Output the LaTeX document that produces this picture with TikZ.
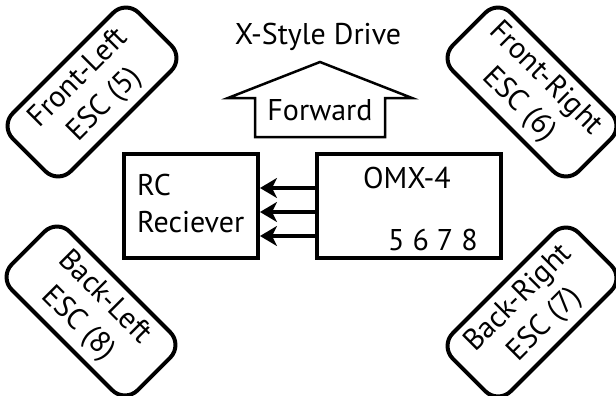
\documentclass[tikz,border=0pt]{standalone}
\usepackage{fontspec}
\setmainfont{PT Sans}
\usetikzlibrary{arrows.meta}
\tikzset{
  box/.style={draw, line width=4pt, minimum width=134pt, minimum height=104pt},
  esc/.style={draw, line width=4pt, rounded corners=18pt, minimum width=178pt, minimum height=82pt, align=center, inner sep=0pt},
  txt/.style={inner sep=0pt, anchor=base west},
  sig/.style={line width=4pt, -{Stealth[length=17pt, width=20pt, inset=5pt]}}
}
\begin{document}
\begin{tikzpicture}[x=1pt, y=-1pt, font=\fontsize{30}{37}\selectfont]
\useasboundingbox (0,0) rectangle (616,396);
\node [box] (rc) at (191,206) {};
\node [box, minimum width=184pt] (omx) at (409,206) {};
\node [txt] (rcname) at (137,195) {RC};
\node [txt] (rcname2) at (137,232) {Reciever};
\node [txt] (omxname) at (363,188) {OMX-4};
\node [txt] (pins) at (388,250) {5 6 7 8};
\foreach \y in {188,212,236}
  \draw [sig] (omx.west |- 0,\y) -- (rc.east |- 0,\y);
\draw [line width=2.5pt, line join=miter] (320,62) -- (412,98) -- (385,98) -- (385,137) -- (255,137) -- (255,98) -- (228,98) -- cycle;
\node [inner sep=0pt, anchor=base] (fwd) at (320,120) {Forward};
\node [inner sep=0pt, anchor=base] (title) at (318,45) {X-Style Drive};
\node [esc, rotate=45] (fl) at (92,92) {Front-Left\\ESC (5)};
\node [esc, rotate=-45] (fr) at (532,92) {Front-Right\\ESC (6)};
\node [esc, rotate=-45] (bl) at (91,311) {Back-Left\\ESC (8)};
\node [esc, rotate=45] (br) at (532,312) {Back-Right\\ESC (7)};
\end{tikzpicture}
\end{document}
